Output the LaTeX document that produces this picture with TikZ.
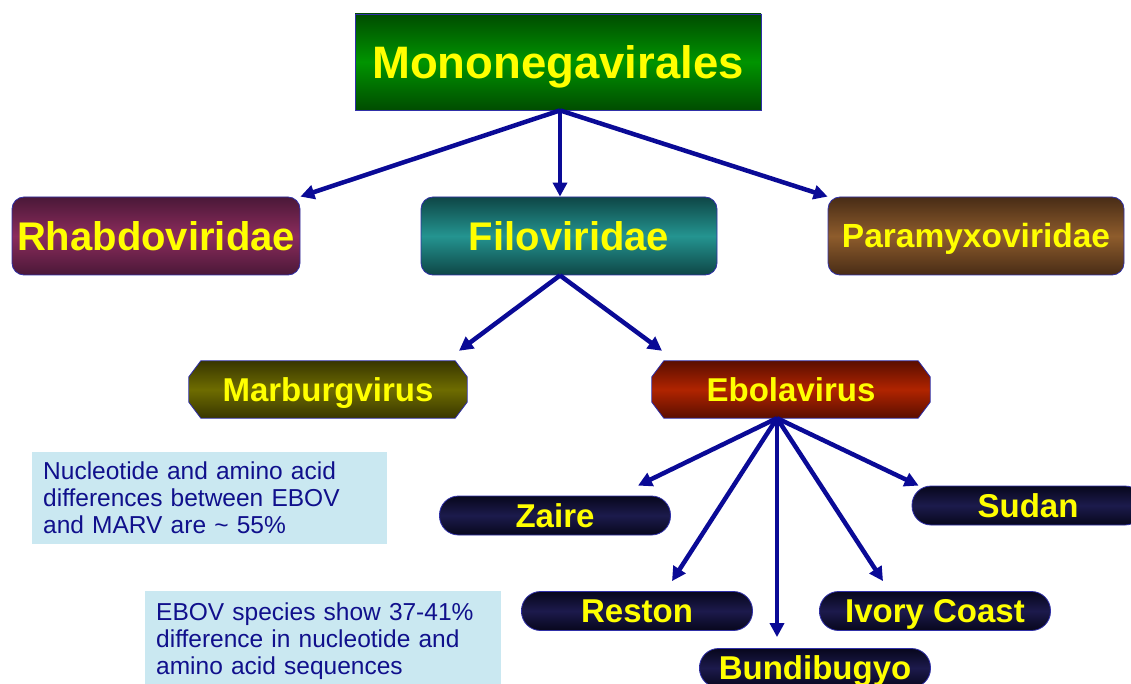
\documentclass[tikz,border=0pt]{standalone}
\usepackage{fontspec}
\setmainfont{Liberation Sans}
\usetikzlibrary{arrows.meta,backgrounds}
\definecolor{arrowblue}{HTML}{0A0A96}
\definecolor{edgeblue}{HTML}{3030A8}
\definecolor{labelyellow}{HTML}{FFFF00}
\definecolor{boxfill}{HTML}{CAE8F1}
\definecolor{boxtext}{HTML}{10108C}
\definecolor{greenD}{HTML}{004C00}
\definecolor{greenL}{HTML}{009400}
\definecolor{rhabD}{HTML}{4A1838}
\definecolor{rhabL}{HTML}{8C2C5C}
\definecolor{filoD}{HTML}{0E4646}
\definecolor{filoL}{HTML}{249490}
\definecolor{paraD}{HTML}{482C16}
\definecolor{paraL}{HTML}{8E5C2C}
\definecolor{marbD}{HTML}{383600}
\definecolor{marbL}{HTML}{6E6C00}
\definecolor{ebolD}{HTML}{5A0E00}
\definecolor{ebolL}{HTML}{B02400}
\definecolor{pillD}{HTML}{07071C}
\definecolor{pillL}{HTML}{1C1A4C}
\begin{document}
\begin{tikzpicture}[x=1pt,y=-1pt,
  basenode/.style={draw=edgeblue, line width=0.8pt, text=labelyellow, inner sep=0pt, align=center,
     text depth=0pt},
  famnode/.style={basenode, rounded corners=12pt, minimum height=78pt, text height=28.7pt,
     font=\bfseries\fontsize{40}{44}\selectfont},
  chamtext/.style={text=labelyellow, inner sep=0pt, minimum width=278pt, minimum height=57pt,
     text height=23.6pt, text depth=0pt, font=\bfseries\fontsize{33}{36}\selectfont},
  chamfill/.style={draw=edgeblue, line width=0.8pt},
  pillnode/.style={basenode, rounded corners=19pt, minimum width=231pt, minimum height=39pt,
     text height=23.6pt, top color=pillD, bottom color=pillD, middle color=pillL,
     font=\bfseries\fontsize{33}{36}\selectfont},
  infobox/.style={fill=boxfill, text=boxtext, inner xsep=11pt, inner ysep=0pt, align=left,
     font=\fontsize{24.5}{27}\selectfont},
  arr/.style={draw=arrowblue, line width=4.5pt, -{Triangle[length=14pt,width=14pt]}}]
\useasboundingbox (0,0) rectangle (1131,684);

% main nodes
\node[basenode, minimum width=406pt, minimum height=96pt, text height=32.6pt,
  top color=greenD, bottom color=greenD, middle color=greenL,
  font=\bfseries\fontsize{45.5}{50}\selectfont] (mono) at (558,62) {Mononegavirales};

\node[famnode, minimum width=288pt, top color=rhabD, bottom color=rhabD, middle color=rhabL] (rhabdo) at (156,236) {Rhabdoviridae};
\node[famnode, minimum width=296pt, top color=filoD, bottom color=filoD, middle color=filoL] (filo) at (569,236) {Filoviridae};
\node[famnode, minimum width=296pt, top color=paraD, bottom color=paraD, middle color=paraL,
  text height=24pt, font=\bfseries\fontsize{33.5}{38}\selectfont] (para) at (976,236) {Paramyxoviridae};

\node[chamtext] (marb) at (328,389.5) {Marburgvirus};
\node[chamtext] (ebola) at (791,389.5) {Ebolavirus};
\begin{scope}[on background layer]
  \foreach \n/\cd/\cl in {marb/marbD/marbL, ebola/ebolD/ebolL}{
    \shade[chamfill, top color=\cd, bottom color=\cd, middle color=\cl]
      ([xshift=12pt]\n.north west) -- ([xshift=-12pt]\n.north east) -- ([yshift=-16pt]\n.north east)
      -- ([yshift=16pt]\n.south east) -- ([xshift=-12pt]\n.south east) -- ([xshift=12pt]\n.south west)
      -- ([yshift=16pt]\n.south west) -- ([yshift=-16pt]\n.north west) -- cycle;
  }
\end{scope}

\node[pillnode] (zaire) at (555,515.5) {Zaire};
\node[pillnode, minimum width=232pt] (sudan) at (1028,505.5) {Sudan};
\node[pillnode] (reston) at (637,611) {Reston};
\node[pillnode] (ivory) at (935,611) {Ivory Coast};
\node[pillnode] (bundi) at (815,668) {Bundibugyo};

% info boxes
\node[infobox, anchor=north west, minimum width=355pt, minimum height=92pt, text width=333pt] (info1) at (32,452)
  {Nucleotide and amino acid\\differences between EBOV\\and MARV are \textasciitilde{} 55\%};
\node[infobox, anchor=north west, minimum width=356pt, minimum height=100pt, text width=334pt] (info2) at (145,591)
  {EBOV species show 37-41\%\\difference in nucleotide and\\amino acid sequences};

% connectors
\coordinate (m0) at ([xshift=2pt]mono.south);
\draw[arr] (m0) -- (rhabdo.north east);
\draw[arr] (m0) -- (m0 |- filo.north);
\draw[arr] (m0) -- (para.north west);

\coordinate (f0) at (m0 |- filo.south);
\draw[arr] (f0) -- ([xshift=131pt,yshift=10pt]marb.north);
\draw[arr] (f0) -- ([xshift=-129pt,yshift=10pt]ebola.north);

\coordinate (e0) at ([xshift=-14pt]ebola.south);
\coordinate (bt) at ([yshift=11pt]bundi.north);
\draw[arr] (e0) -- ([xshift=83pt,yshift=10pt]zaire.north);
\draw[arr] (e0) -- ([xshift=7pt]sudan.north west);
\draw[arr] (e0) -- ([xshift=35pt,yshift=10pt]reston.north);
\draw[arr] (e0) -- ([xshift=-52pt,yshift=10pt]ivory.north);
\draw[arr] (e0) -- (e0 |- bt);
\end{tikzpicture}
\end{document}
